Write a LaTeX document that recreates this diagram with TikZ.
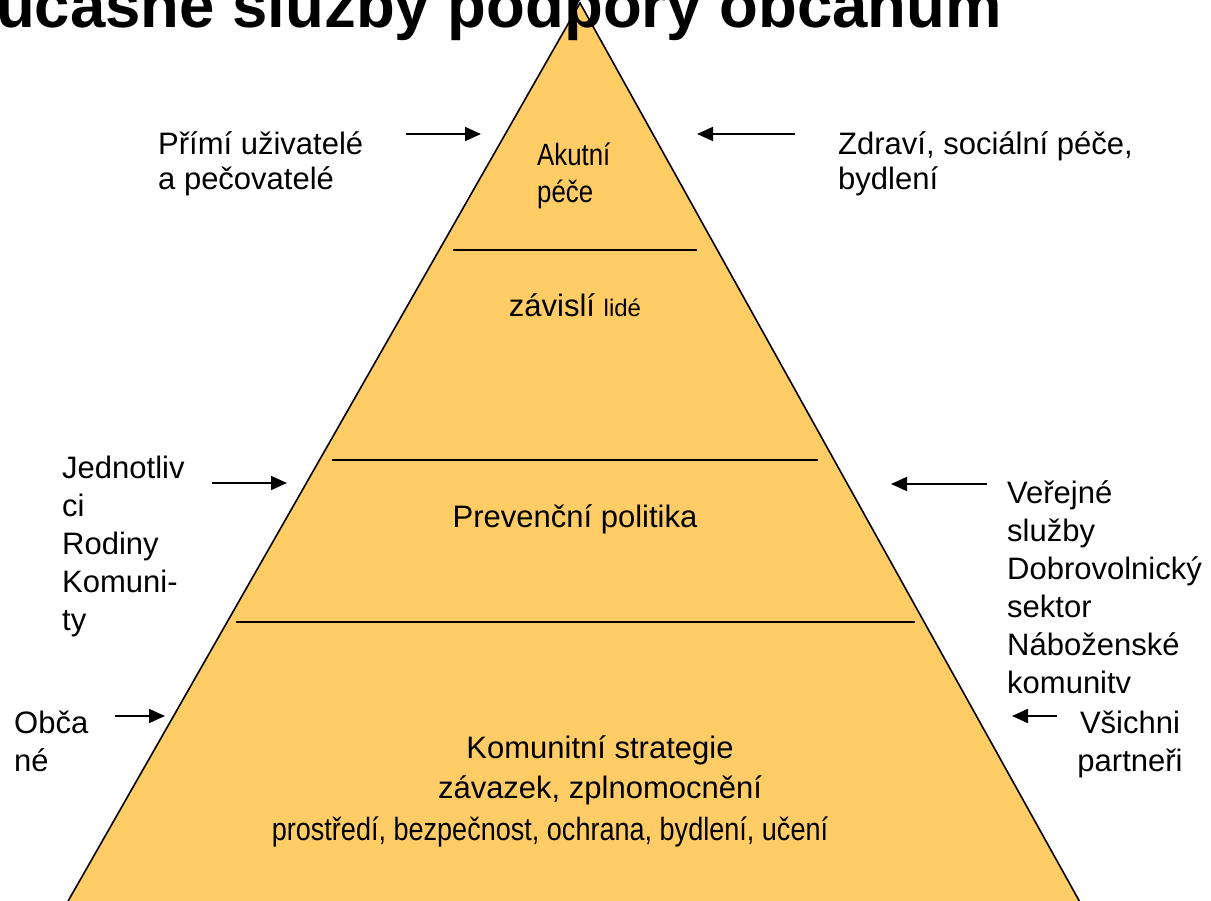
\documentclass[tikz,border=0pt]{standalone}
\usepackage{fontspec}
\setmainfont{Liberation Sans}
\newfontfamily\narrowfont[FakeStretch=0.84]{Liberation Sans}
\usetikzlibrary{arrows.meta}

\definecolor{pyramid}{RGB}{255,204,102}

\begin{document}
\begin{tikzpicture}[x=1pt,y=-1pt,
	side/.style={inner sep=0pt,align=left,font=\fontsize{31}{38}\selectfont},
	level/.style={inner sep=0pt,align=center,font=\fontsize{31}{37}\selectfont},
	into/.style={-{Triangle[length=16pt,width=14pt]},line width=1.8pt}]

% parameters %{{{2

	\def\apexx{580}
	\def\apexy{3}
	\def\basey{915}

	\useasboundingbox (0,0) rectangle (1211,901);

% coordinates %{{{2

	\coordinate (T) at (\apexx,\apexy);
	\coordinate (L) at ({\apexx-0.570*(\basey-\apexy)},\basey);
	\coordinate (R) at ({\apexx+0.556*(\basey-\apexy)},\basey);

% pyramid %{{{2

	\filldraw[fill=pyramid,line width=1.6pt] (T) -- (L) -- (R) -- cycle;

	\foreach \y/\xa/\xb in {250/453/697, 460/332/818, 622/236/915} {
		\draw[line width=1.8pt] (\xa,\y) -- (\xb,\y);
	}

% levels %{{{2

	\node[level,anchor=north west,align=left,font=\narrowfont\fontsize{30.7}{37}\selectfont]
		(acute) at (537,143) {Akutní\\péče};
	\node[level,anchor=base] (dependent) at (575,317)
		{závislí {\fontsize{24}{28}\selectfont lidé}};
	\node[level,anchor=base] (prevention) at (575,527) {Prevenční politika};
	\node[level,anchor=north,font=\fontsize{31}{40}\selectfont] (strategy) at (600,735)
		{Komunitní strategie\\závazek, zplnomocnění};
	\node[level,anchor=base,font=\narrowfont\fontsize{32.2}{40}\selectfont] (areas) at (550,840)
		{prostředí, bezpečnost, ochrana, bydlení, učení};

% side labels %{{{2

	\node[side,font=\fontsize{31}{35}\selectfont,anchor=north west] (users) at (158,131)
		{Přímí uživatelé\\a pečovatelé};
	\node[side,font=\fontsize{31}{35}\selectfont,anchor=north west] (health) at (838,131)
		{Zdraví, sociální péče,\\bydlení};
	\node[side,anchor=north west] (people) at (62,456)
		{Jednotliv\\ci\\Rodiny\\Komuni-\\ty};
	\node[side,anchor=north west] (public) at (1007,480)
		{Veřejné\\služby\\Dobrovolnický\\sektor\\Náboženské\\komunitv};
	\node[side,anchor=north west] (citizens) at (14,711) {Obča\\né};
	\node[side,align=center,anchor=north] (partners) at (1130,711) {Všichni\\partneři};

% arrows %{{{2

	\foreach \n/\xa/\xb/\y in {a/406/481/134, b/795/697/134, c/212/287/483,
		d/987/891/484, e/115/165/716, f/1057/1012/716} {
		\coordinate (\n0) at (\xa,\y);
		\coordinate (\n1) at (\xb,\y);
		\draw[into] (\n0) -- (\n1);
	}

% title %{{{2

	\node[anchor=base west,inner sep=0pt,font=\fontsize{63.5}{64}\selectfont\bfseries]
		(title) at (-4,28) {učasné služby podpory občanům};

% closing %{{{2

\end{tikzpicture}
\end{document}
